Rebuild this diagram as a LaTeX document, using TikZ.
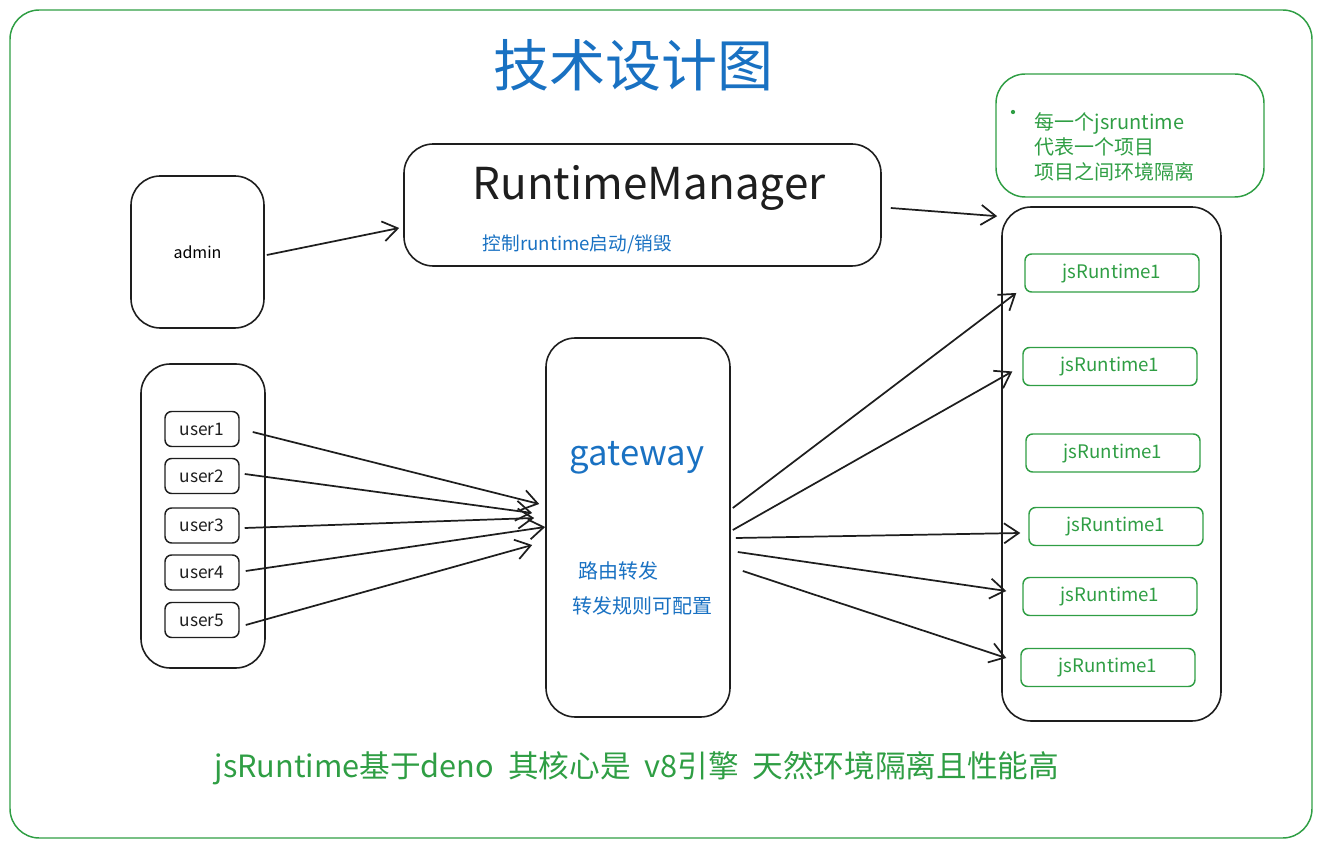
\documentclass[tikz,border=0pt]{standalone}
\usepackage{fontspec}
\setmainfont{Noto Sans CJK SC}
\usepackage{tikz}
\usetikzlibrary{arrows.meta, positioning, calc}
\definecolor{inkblack}{RGB}{30, 30, 30}
\definecolor{inkgreen}{RGB}{47, 158, 68}
\definecolor{inkblue}{RGB}{25, 113, 194}
\newcommand{\pxu}{0.75pt}
\tikzset{
  sketchbox/.style={draw=inkblack, line width=1.2pt, rounded corners=22pt, inner sep=0pt},
  userbox/.style={draw=inkblack, line width=1.1pt, rounded corners=5pt, minimum width=74*\pxu, minimum height=35*\pxu, inner sep=0pt, text=inkblack, font=\fontsize{13}{15}\selectfont},
  jsbox/.style={draw=inkgreen, line width=1.1pt, rounded corners=5pt, minimum width=174*\pxu, minimum height=38*\pxu, inner sep=0pt, text=inkgreen, text height=10pt, text depth=2pt, font=\fontsize{14}{16}\selectfont},
  sketcharrow/.style={draw=inkblack, line width=1.3pt, -{Straight Barb[length=11pt, width=15pt]}},
}

\begin{document}
\begin{tikzpicture}[x=\pxu, y=-\pxu]
  \useasboundingbox (0,0) rectangle (1322,848);

  % Frame
  \draw[draw=inkgreen, line width=1.1pt, rounded corners=22pt] (10,10) rectangle (1312,838);
  \node[text=inkblue, font=\fontsize{42}{48}\selectfont] (title) at (633,65) {技术设计图};

  % Note
  \node[draw=inkgreen, line width=1.1pt, rounded corners=22pt, minimum width=268*\pxu, minimum height=123*\pxu] (note) at (1130,135.5) {};
  \fill[inkgreen] (1013,112) circle (1.6pt);
  \node[anchor=west, align=left, text=inkgreen, font=\fontsize{15}{18.5}\selectfont] (notetext) at (1030,147) {每一个jsruntime\\代表一个项目\\项目之间环境隔离};

  % Admin and RuntimeManager
  \node[sketchbox, minimum width=133*\pxu, minimum height=152*\pxu, font=\fontsize{12}{14}\selectfont] (admin) at (197.5,252) {admin};
  \node[sketchbox, minimum width=477*\pxu, minimum height=122*\pxu] (rm) at (642.5,205) {};
  \node[text=inkblack, font=\fontsize{33}{38}\selectfont] (rmtitle) at (649,188) {RuntimeManager};
  \node[anchor=west, text=inkblue, font=\fontsize{14}{16}\selectfont] (rmnote) at (478,244) {控制runtime启动/销毁};

  % Users
  \node[sketchbox, minimum width=124*\pxu, minimum height=304*\pxu] (users) at (203,516) {};
  \foreach \i/\y in {1/429, 2/476, 3/525.5, 4/572.5, 5/620}
    \node[userbox] (u\i) at (202,\y) {user\i};

  % Gateway
  \node[sketchbox, minimum width=184*\pxu, minimum height=379*\pxu] (gw) at (638,527.5) {};
  \node[text=inkblue, font=\fontsize{26}{30}\selectfont] (gwtitle) at (637,458) {gateway};
  \node[anchor=west, text=inkblue, font=\fontsize{15}{18}\selectfont] (gwroute) at (574,571) {路由转发};
  \node[anchor=west, text=inkblue, font=\fontsize{15}{18}\selectfont] (gwrule) at (568,606) {转发规则可配置};

  % Runtimes
  \node[sketchbox, minimum width=219*\pxu, minimum height=514*\pxu] (rtc) at (1111.5,464) {};
  \foreach \i/\x/\y in {1/1112/273, 2/1110/366.5, 3/1113/453, 4/1116/526.5, 5/1110/596.5, 6/1108/667.5}
    \node[jsbox] (js\i) at (\x,\y) {jsRuntime1};

  % Arrows
  \draw[sketcharrow] ($(admin.east)+(2,3)$) -- ($(rm.west)+(-4,23)$);
  \draw[sketcharrow] ($(rm.east)+(9,3)$) -- ($(rtc.north west)+(-4,10)$);
  \foreach \i/\sx/\sy/\ex/\ey in {1/13/3/-6/-23.5, 2/5/-2/-13/-14.5, 3/5/2.5/-11/-9.5, 4/6/-1.5/0/-0.5, 5/6/5/-13/17.5}
    \draw[sketcharrow] ($(u\i.east)+(\sx,\sy)$) -- ($(gw.west)+(\ex,\ey)$);
  \foreach \j/\sx/\sy/\ex/\ey in {1/2/-19.5/-8/20, 2/2/2.5/-10/5, 4/5/10.5/-8/6.5, 5/7/24.5/-16/-5.5, 6/12/43.5/-14/-9.5}
    \draw[sketcharrow] ($(gw.east)+(\sx,\sy)$) -- ($(js\j.west)+(\ex,\ey)$);

  % Summary
  \node[text=inkgreen, font=\fontsize{23}{27}\selectfont] (summary) at (637,768) {jsRuntime基于deno\hspace{0.45em}其核心是\hspace{0.45em}v8引擎\hspace{0.45em}天然环境隔离且性能高};
\end{tikzpicture}
\end{document}
